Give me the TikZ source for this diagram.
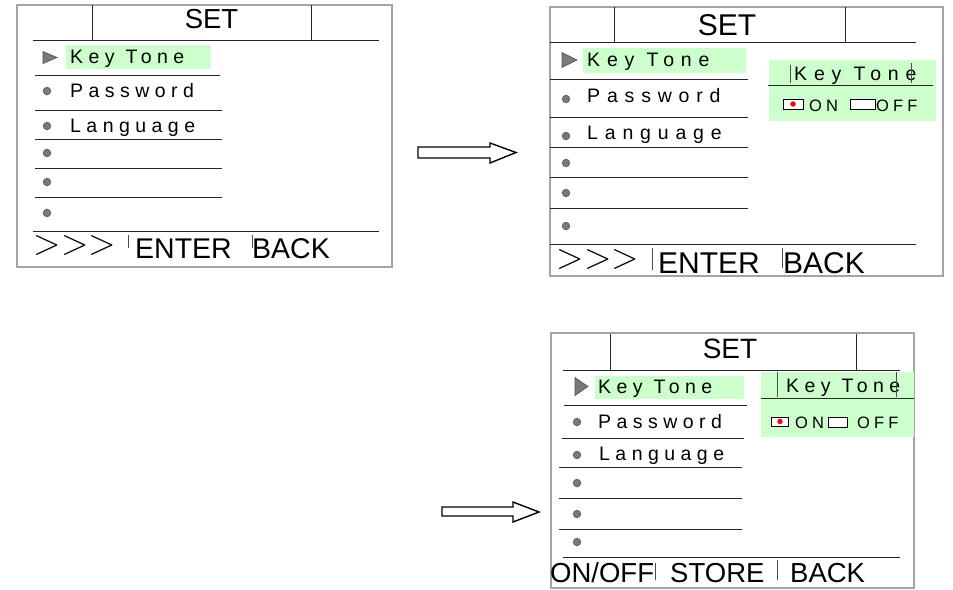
\documentclass[tikz,border=0pt]{standalone}
\usepackage{fontspec}
\setmainfont{Liberation Sans}
\newfontfamily\lmfont{Latin Modern Roman}
\definecolor{hl}{HTML}{CCFFCC}
\definecolor{fr}{HTML}{A4A4A4}
\definecolor{bul}{HTML}{7A7A7A}
\definecolor{buld}{HTML}{505050}
\begin{document}
\begin{tikzpicture}[x=1pt,y=-1pt,
  frame/.style={draw=fr, line width=1.3pt},
  rule/.style={draw=black!85, line width=0.9pt},
  sep/.style={draw=black!70, line width=0.7pt},
  menuA/.style={anchor=base west, inner sep=0pt, font=\fontsize{19.5}{20}\selectfont\addfontfeatures{LetterSpace=28}},
  menuB/.style={anchor=base west, inner sep=0pt, font=\fontsize{19.5}{20}\selectfont\addfontfeatures{LetterSpace=35}},
  small/.style={anchor=base west, inner sep=0pt, font=\fontsize{16.5}{17}\selectfont\addfontfeatures{LetterSpace=25}},
  title/.style={anchor=base, inner sep=0pt},
  foot/.style={anchor=base west, inner sep=0pt},
  gt/.style={anchor=center, inner sep=0pt, font=\lmfont\fontsize{36}{36}\selectfont},
  bullet/.style={circle, fill=bul, draw=buld, line width=0.6pt, inner sep=0pt, minimum size=7.6pt},
  tri/.style={fill=bul, draw=buld, line width=0.6pt},
  box/.style={draw=black, fill=white, line width=0.8pt},
  dot/.style={circle, fill=red, inner sep=0pt, minimum size=5.5pt},
  blk/.style={draw=black, fill=white, line width=1.4pt, line join=miter}
]
\useasboundingbox (0,0) rectangle (953,589);

% ================= Panel 1 =================
\draw[frame] (17,5) rectangle (392,267);
\fill[hl] (66,45) rectangle (211,69);
\draw[rule] (92,5) -- (92,40) (311,5) -- (311,40);
\draw[rule] (33,40) -- (379,40);
\node[title, font=\fontsize{27.5}{27.5}\selectfont] (s1) at (211.5,28) {SET};
\draw[tri] (43,51.5) -- (43,63.5) -- (57,57.5) -- cycle;
\node[menuA] (k1) at (70,63) {Key Tone};
\draw[rule] (35,75) -- (220,75);
\node[bullet] (b11) at (47,91) {};
\node[menuA] (p1) at (70,97) {Password};
\draw[rule] (35,110) -- (222,110);
\node[bullet] (b12) at (47,126) {};
\node[menuA] (l1) at (70,132) {Language};
\draw[rule] (35,139) -- (222,139);
\node[bullet] (b13) at (47,153) {};
\draw[rule] (35,168) -- (222,168);
\node[bullet] (b14) at (47,182) {};
\draw[rule] (35,197) -- (222,197);
\node[bullet] (b15) at (47,213) {};
\draw[rule] (33,231) -- (379,231);
\node[gt] (g1) at (75,246) {>>>};
\draw[sep] (128,235) -- (128,248) (252,235) -- (252,248);
\node[foot, font=\fontsize{28.5}{28.5}\selectfont] (e1) at (135,258) {ENTER};
\node[foot, font=\fontsize{28.5}{28.5}\selectfont] (bk1) at (252,258) {BACK};

% ================= Panel 2 =================
\draw[frame] (550,7) rectangle (943,276);
\fill[hl] (583,48) rectangle (746,73);
\draw[rule] (614,7) -- (614,42) (845,7) -- (845,42);
\draw[rule] (550,42) -- (916,42);
\node[title, font=\fontsize{30}{30}\selectfont] (s2) at (727,35) {SET};
\draw[tri] (562,52.5) -- (562,67.5) -- (577,60) -- cycle;
\node[menuB] (k2) at (587,66) {Key Tone};
\draw[rule] (550,79) -- (748,79);
\node[bullet] (b21) at (566,99) {};
\node[menuB] (p2) at (587,102) {Password};
\draw[rule] (550,117) -- (748,117);
\node[bullet] (b22) at (566,136) {};
\node[menuB] (l2) at (587,139) {Language};
\draw[rule] (550,147) -- (748,147);
\node[bullet] (b23) at (566,163) {};
\draw[rule] (550,177) -- (748,177);
\node[bullet] (b24) at (566,193) {};
\draw[rule] (550,208) -- (748,208);
\node[bullet] (b25) at (566,226) {};
\draw[rule] (550,244) -- (916,244);
\node[gt] (g2) at (598,260) {>>>};
\draw[sep] (652,248) -- (652,270) (782,248) -- (782,268);
\node[foot, font=\fontsize{30}{30}\selectfont] (e2) at (658,273) {ENTER};
\node[foot, font=\fontsize{30}{30}\selectfont] (bk2) at (783,273) {BACK};
% popup
\fill[hl] (769,60) rectangle (936,121);
\draw[rule] (768,85) -- (933,85);
\node[menuB] (pk2) at (794,80) {Key Tone};
\draw[sep] (790,65) -- (790,83) (911,63) -- (911,83);
\draw[box] (783,99) rectangle (803,109);
\node[dot] (d2) at (793,104) {};
\node[small] (on2) at (809,111) {ON};
\draw[box] (850,99) rectangle (875,109);
\node[small] (off2) at (876,111) {OFF};

% ================= Panel 3 =================
\draw[frame] (551,333) rectangle (914,588);
\fill[hl] (595,376) rectangle (744,399);
\draw[rule] (610,334) -- (610,370) (856,334) -- (856,370);
\draw[rule] (563,370) -- (900,370);
\node[title, font=\fontsize{28}{28}\selectfont] (s3) at (730,358) {SET};
\draw[tri] (575,377.5) -- (575,395.5) -- (588,386.5) -- cycle;
\node[menuA] (k3) at (598,393) {Key Tone};
\draw[rule] (564,405) -- (747,405);
\node[bullet] (b31) at (577,422) {};
\node[menuA] (p3) at (598,428) {Password};
\draw[rule] (562,438) -- (744,438);
\node[bullet] (b32) at (577,455) {};
\node[menuA] (l3) at (599,460) {Language};
\draw[rule] (559,467) -- (742,467);
\node[bullet] (b33) at (577,483) {};
\draw[rule] (559,498) -- (742,498);
\node[bullet] (b34) at (577,514) {};
\draw[rule] (559,529) -- (742,529);
\node[bullet] (b35) at (577,542) {};
\draw[rule] (563,557) -- (900,557);
\node[foot, font=\fontsize{27.5}{27.5}\selectfont] (o3) at (550,582) {ON/OFF};
\draw[sep] (655,563) -- (655,580) (777,560) -- (777,580);
\node[foot, font=\fontsize{27.5}{27.5}\selectfont] (st3) at (670,582) {STORE};
\node[foot, font=\fontsize{27.5}{27.5}\selectfont] (bk3) at (790,582) {BACK};
% popup
\fill[hl] (761,372) rectangle (914,437);
\draw[rule] (761,398) -- (914,398);
\node[menuA] (pk3) at (786,392) {Key Tone};
\draw[sep] (777,372) -- (777,397) (896,372) -- (896,397);
\draw[box] (771,417) rectangle (788,426);
\node[dot] (d3) at (780,421.5) {};
\node[small] (on3) at (795,428) {ON};
\draw[box] (828,417) rectangle (847,427);
\node[small] (off3) at (857,428) {OFF};

% ================= Arrows =================
\draw[blk] (418,147) -- (490,147) -- (490,143) -- (516,152.5) -- (490,163) -- (490,158) -- (418,158) -- cycle;
\draw[blk] (442,507) -- (513,507) -- (513,502) -- (539,512) -- (513,522) -- (513,516) -- (442,516) -- cycle;
\end{tikzpicture}
\end{document}
